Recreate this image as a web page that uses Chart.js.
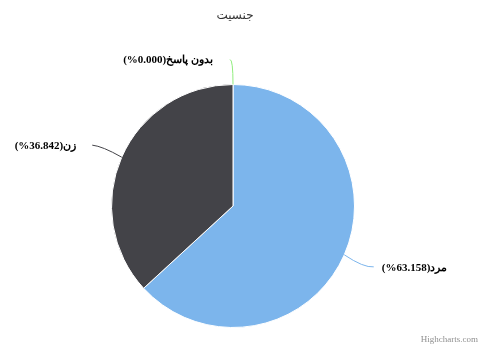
<!DOCTYPE html>
<html>
<head>
<meta charset="utf-8">
<script src="https://cdn.jsdelivr.net/npm/chart.js@4"></script>
<style>
body { margin: 0; background: #fff; }
#wrap { width: 483px; height: 348px; position: relative; }
</style>
</head>
<body>
<div id="wrap"><canvas id="pieChart" width="483" height="348"></canvas></div>
<script>
var chartTitle = 'جنسیت';
var labels = ['مرد', 'زن', 'بدون پاسخ'];
var values = [63.158, 36.842, 0];
var colors = ['#7cb5ec', '#434348', '#90ed7d'];

// labels and connectors, drawn the way the old chart had them
var labelPlugin = {
    id: 'sliceLabels',
    afterDatasetsDraw: function (chart) {
        var ctx = chart.ctx;
        var meta = chart.getDatasetMeta(0);
        ctx.save();
        ctx.font = 'bold 11px "Liberation Serif", serif';
        ctx.textBaseline = 'middle';
        ctx.direction = 'ltr';
        meta.data.forEach(function (arc, i) {
            var p = arc.getProps(['x', 'y', 'startAngle', 'endAngle', 'outerRadius'], true);
            var mid = (p.startAngle + p.endAngle) / 2;
            var r = p.outerRadius;
            var cos = Math.cos(mid), sin = Math.sin(mid);
            var ex = p.x + r * cos, ey = p.y + r * sin;
            var left = cos < -0.0001 || (Math.abs(cos) < 0.0001 && values[i] === 0);
            var ly = p.y + (r + 30) * sin;
            var lx = p.x + (r + 30) * cos;
            if (Math.abs(cos) < 0.01) ly += 5;
            ctx.strokeStyle = colors[i];
            ctx.lineWidth = 1;
            ctx.beginPath();
            ctx.moveTo(ex, ey);
            var tx;
            if (Math.abs(cos) < 0.01) {
                ctx.quadraticCurveTo(p.x, ly, p.x - 3, ly);
                tx = p.x - 20;
            } else if (left) {
                ctx.quadraticCurveTo(lx + 8, ly + 1, lx - 2, ly);
                tx = lx - 18;
            } else {
                ctx.quadraticCurveTo(lx - 8, ly + 1, lx + 2, ly);
                tx = lx + 10;
            }
            ctx.stroke();
            // number part on the left, name on the right
            var numTxt = '(%' + values[i].toFixed(3) + ')';
            var nameTxt = labels[i];
            var wNum = ctx.measureText(numTxt).width;
            var wName = ctx.measureText(nameTxt).width;
            var startX = left ? tx - wNum - wName : tx;
            ctx.fillStyle = '#000000';
            ctx.textAlign = 'left';
            ctx.fillText(numTxt, startX, ly + 1);
            ctx.fillText(nameTxt, startX + wNum, ly + 1);
        });
        ctx.restore();
    },
    afterDraw: function (chart) {
        var ctx = chart.ctx;
        ctx.save();
        ctx.fillStyle = '#333333';
        ctx.font = '12px "DejaVu Sans", sans-serif';
        ctx.textAlign = 'center';
        ctx.textBaseline = 'middle';
        ctx.fillText(chartTitle, 235, 16);
        ctx.fillStyle = '#909090';
        ctx.font = '9px "Liberation Serif", serif';
        ctx.textAlign = 'right';
        ctx.fillText('Highcharts.com', 478, 340);
        ctx.restore();
    }
};

var ctx = document.getElementById('pieChart').getContext('2d');
new Chart(ctx, {
    type: 'pie',
    data: {
        labels: labels,
        datasets: [{
            data: values,
            backgroundColor: colors,
            borderColor: '#ffffff',
            borderWidth: 1
        }]
    },
    options: {
        responsive: false,
        animation: false,
        layout: {
            padding: { top: 84, bottom: 20, left: 100, right: 117 }
        },
        plugins: {
            legend: { display: false },
            tooltip: { enabled: false },
            title: { display: false }
        }
    },
    plugins: [labelPlugin]
});
</script>
</body>
</html>
